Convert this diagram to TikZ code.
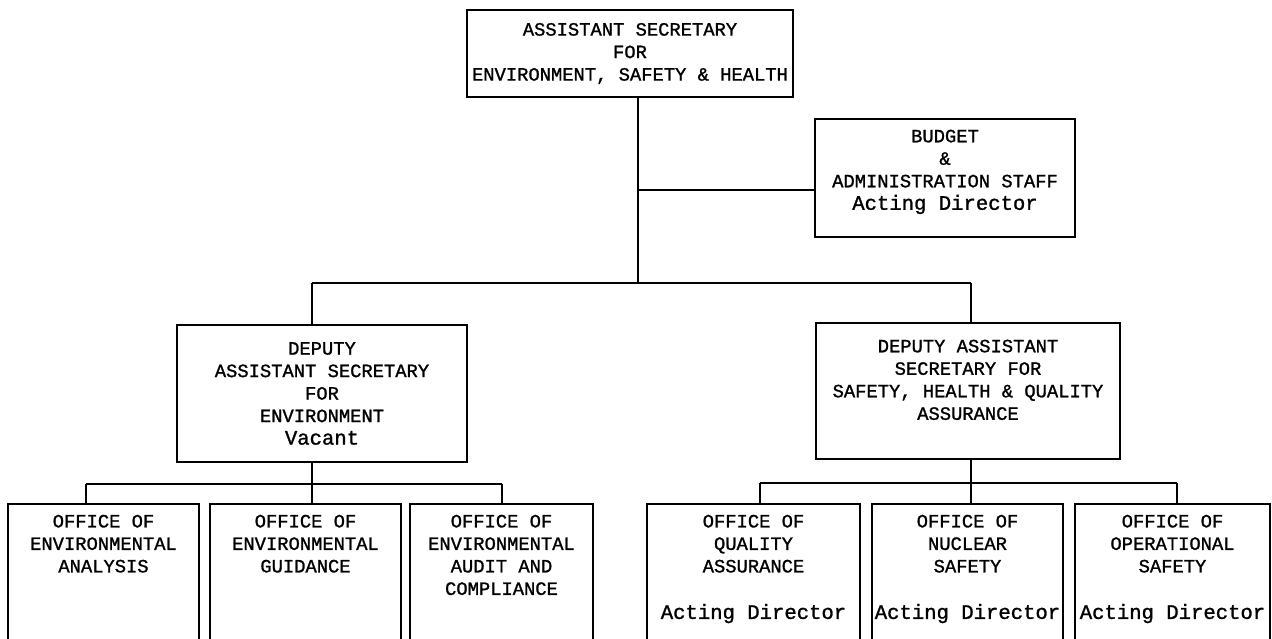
\documentclass[tikz,border=0pt]{standalone}
\usepackage{fontspec}
\newfontfamily\typefont[FakeBold=1.2]{Liberation Mono}
\newcommand{\capsize}{\fontsize{18.8}{22.5}\selectfont}
\newcommand{\whosize}{\fontsize{20.6}{22.5}\selectfont}

\begin{document}
\begin{tikzpicture}[x=1pt, y=-1pt,
  box/.style={draw, line width=1.6pt, align=center, inner xsep=2pt, inner ysep=4pt, font=\typefont\capsize},
  office/.style={box, anchor=north, inner ysep=11pt},
  link/.style={line width=1.6pt}]
  \useasboundingbox (0,0) rectangle (1272,638);
  \clip (0,0) rectangle (1272,638);
  \node[box, minimum width=326pt, minimum height=87pt] (asec) at (630,53.5)
    {ASSISTANT SECRETARY\\FOR\\ENVIRONMENT, SAFETY \& HEALTH};
  \node[box, minimum width=260pt, minimum height=118pt] (budget) at (945,178)
    {BUDGET\\\&\\ADMINISTRATION STAFF\\{\whosize Acting Director}\\[-6pt]\mbox{}};
  \node[box, minimum width=290pt, minimum height=137pt] (envdep) at (322,393.5)
    {DEPUTY\\ASSISTANT SECRETARY\\FOR\\ENVIRONMENT\\{\whosize Vacant}};
  \node[box, minimum width=304pt, minimum height=136pt] (shqdep) at (968,391)
    {DEPUTY ASSISTANT\\SECRETARY FOR\\SAFETY, HEALTH \& QUALITY\\ASSURANCE\\\mbox{}};
  \node[office, minimum width=191pt] (oea) at (103.5,503)
    {OFFICE OF\\ENVIRONMENTAL\\ANALYSIS\\[90pt]\mbox{}};
  \node[office, minimum width=191pt] (oeg) at (305.5,503)
    {OFFICE OF\\ENVIRONMENTAL\\GUIDANCE\\[90pt]\mbox{}};
  \node[office, minimum width=183pt] (oeac) at (501.5,503)
    {OFFICE OF\\ENVIRONMENTAL\\AUDIT AND\\COMPLIANCE\\[70pt]\mbox{}};
  \node[office, minimum width=213pt] (oqa) at (753.5,503)
    {OFFICE OF\\QUALITY\\ASSURANCE\\[24pt]{\whosize Acting Director}\\[50pt]\mbox{}};
  \node[office, minimum width=191pt] (ons) at (967.5,503)
    {OFFICE OF\\NUCLEAR\\SAFETY\\[24pt]{\whosize Acting Director}\\[50pt]\mbox{}};
  \node[office, minimum width=195pt] (oos) at (1172.5,503)
    {OFFICE OF\\OPERATIONAL\\SAFETY\\[24pt]{\whosize Acting Director}\\[50pt]\mbox{}};
  \coordinate (hub) at (638,283);
  \coordinate (staff) at (638,190);
  \coordinate (envbus) at (312,484);
  \coordinate (shqbus) at (971,483);
  \draw[link] (asec.south -| hub) -- (hub);
  \draw[link] (staff) -- (staff -| budget.west);
  \draw[link] (hub -| envbus) -- (hub -| shqbus);
  \draw[link] (hub -| envbus) -- (envdep.north -| envbus);
  \draw[link] (hub -| shqbus) -- (shqdep.north -| shqbus);
  \draw[link] (envdep.south -| envbus) -- (envbus);
  \draw[link] (shqdep.south -| shqbus) -- (shqbus);
  \draw[link] (86,484) -- (502,484);
  \draw[link] (760,483) -- (1177,483);
  \foreach \x/\o in {86/oea, 312/oeg, 502/oeac}
    \draw[link] (\x,484) -- (\x,484 |- \o.north);
  \foreach \x/\o in {760/oqa, 971/ons, 1177/oos}
    \draw[link] (\x,483) -- (\x,483 |- \o.north);
\end{tikzpicture}
\end{document}
